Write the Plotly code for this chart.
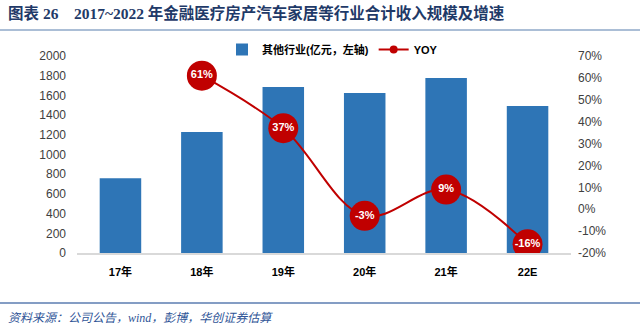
import plotly.graph_objects as go

categories = ["17年", "18年", "19年", "20年", "21年", "22E"]
revenue = [760, 1228, 1685, 1624, 1777, 1492]
yoy = [None, 61, 37, -3, 9, -16]
yoy_labels = ["", "61%", "37%", "-3%", "9%", "-16%"]
left_ticks = list(range(0, 2001, 200))
right_ticks = list(range(-20, 71, 10))

W, H = 640, 333
L, R, T, B = 77, 69, 56, 80
PH = H - T - B
PW = W - L - R

def py(p):
    return (H - B - p) / PH

def px(p):
    return (p - L) / PW

fig = go.Figure()
fig.add_trace(go.Bar(
    x=categories, y=revenue, name="<b>其他行业(亿元，左轴)</b>",
    marker=dict(color="#2E75B6", line=dict(width=0)), width=0.51,
    yaxis="y",
))
fig.add_trace(go.Scatter(
    x=categories, y=yoy, name="<b>YOY</b>", yaxis="y2", showlegend=False,
    mode="lines+markers+text",
    line=dict(color="#C00000", width=2, shape="spline", smoothing=1.0),
    marker=dict(color="#C00000", size=30, line=dict(width=0)),
    text=yoy_labels, textposition="middle center",
    textfont=dict(color="white", size=11, family="Liberation Sans", weight="bold"),
    connectgaps=False,
))
# legend-only entry with a small marker, as in the reference legend
fig.add_trace(go.Scatter(
    x=[None], y=[None], name="<b>YOY</b>", yaxis="y2",
    mode="lines+markers",
    line=dict(color="#C00000", width=2),
    marker=dict(color="#C00000", size=8),
))

fig.update_layout(
    width=W, height=H,
    margin=dict(l=L, r=R, t=T, b=B),
    paper_bgcolor="white", plot_bgcolor="white",
    font=dict(family="Liberation Sans, Noto Sans CJK SC", size=12, color="#404040"),
    bargap=0.49,
    showlegend=True,
    legend=dict(orientation="h", x=px(222), y=py(35), xanchor="left", yanchor="top",
                font=dict(size=11, color="#000000", family="Liberation Sans, Noto Sans CJK SC"),
                bgcolor="rgba(0,0,0,0)", itemwidth=30, tracegroupgap=0),
    xaxis=dict(
        type="category", showgrid=False, showline=True, linecolor="#D9D9D9", linewidth=2,
        ticks="", tickfont=dict(size=11, color="#000000", family="Liberation Sans, Noto Sans CJK SC", weight="bold"),
        ticklabelstandoff=8,
    ),
    yaxis=dict(
        range=[0, 2000], tickvals=left_ticks, showgrid=False, showline=False, zeroline=False,
        ticks="", tickfont=dict(size=12, color="#404040"), ticklabelstandoff=10,
    ),
    yaxis2=dict(
        range=[-20, 70], tickvals=right_ticks, ticktext=[f"{v}%" for v in right_ticks],
        overlaying="y", side="right", showgrid=False, showline=False, zeroline=False,
        ticks="", tickfont=dict(size=12, color="#404040"), ticklabelstandoff=6,
    ),
)

fig.add_annotation(
    text="<b>图表 26　2017~2022 年金融医疗房产汽车家居等行业合计收入规模及增速</b>",
    xref="paper", yref="paper", x=px(6), y=py(13), xanchor="left", yanchor="middle",
    showarrow=False, font=dict(size=15.5, color="#1F3A68", family="Liberation Serif, Noto Sans CJK SC"),
)
fig.add_shape(type="line", xref="paper", yref="paper", x0=px(0), x1=px(640), y0=py(30), y1=py(30),
              line=dict(color="#8FA8C8", width=1.5))
fig.add_shape(type="line", xref="paper", yref="paper", x0=px(0), x1=px(640), y0=py(303), y1=py(303),
              line=dict(color="#5B7DB1", width=1.5))
fig.add_annotation(
    text="<i>资料来源：公司公告，wind，彭博，华创证券估算</i>",
    xref="paper", yref="paper", x=px(6), y=py(318), xanchor="left", yanchor="middle",
    showarrow=False, font=dict(size=12, color="#2F5597", family="Liberation Serif, Noto Sans CJK SC"),
)

fig.write_html("out.html")
